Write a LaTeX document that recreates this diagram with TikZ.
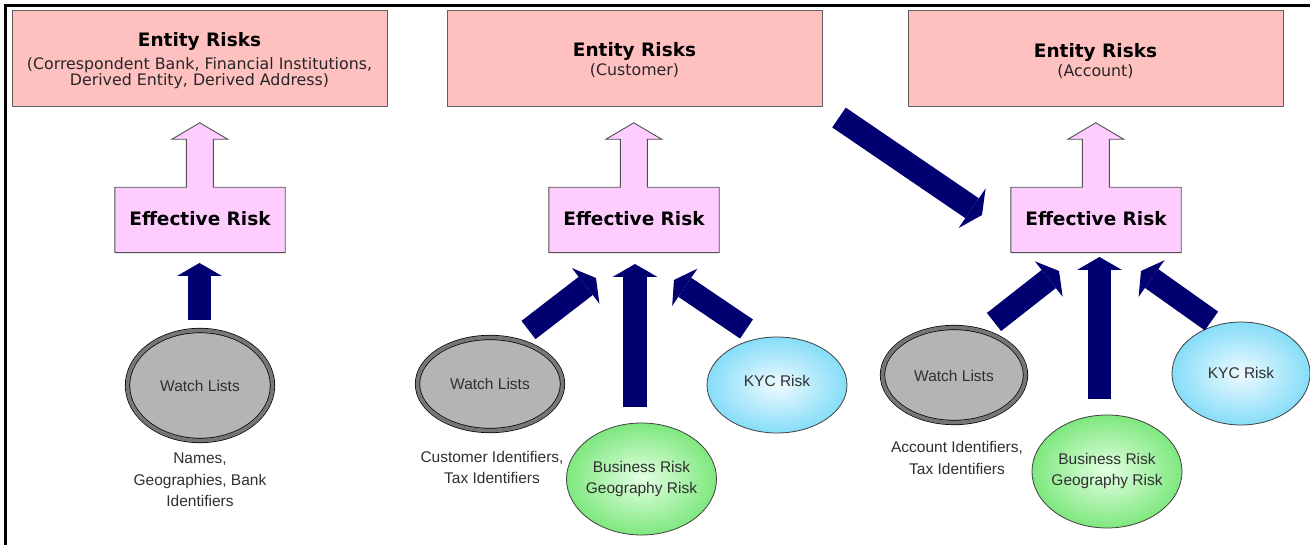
\documentclass[tikz,border=0pt]{standalone}
\usepackage{fontspec}
\setmainfont{DejaVu Sans}
\newfontfamily\verd{DejaVu Sans}
\newfontfamily\arialf{Liberation Sans}
\usetikzlibrary{shapes.geometric,arrows.meta,calc}
\definecolor{entpink}{HTML}{FFC0C0}
\definecolor{entborder}{HTML}{606060}
\definecolor{effpink}{HTML}{FFCCFF}
\definecolor{effborder}{HTML}{505050}
\definecolor{navyc}{HTML}{000070}
\definecolor{wlgray}{HTML}{B4B4B4}
\definecolor{ringgray}{HTML}{767676}
\definecolor{textgray}{HTML}{303030}
\definecolor{subgray}{HTML}{262626}
\definecolor{greenout}{HTML}{7EE87E}
\definecolor{greenin}{HTML}{E4FFE4}
\definecolor{cyanout}{HTML}{86DDF8}
\definecolor{cyanin}{HTML}{EEFAFF}
\definecolor{ovalborder}{HTML}{404040}
\tikzset{
  entbox/.style={draw=entborder, line width=1pt, fill=entpink, minimum width=375pt, minimum height=96.5pt, inner sep=0pt},
  enttitle/.style={font=\verd\bfseries\fontsize{18.5}{22}\selectfont, anchor=base, inner sep=0pt},
  entsub/.style={font=\verd\fontsize{15.8}{16}\selectfont, text=subgray, anchor=base, inner sep=0pt},
  effbox/.style={minimum width=170pt, minimum height=65pt, inner sep=0pt},
  effshape/.style={draw=effborder, line width=0.9pt, fill=effpink, line join=miter},
  efftext/.style={font=\verd\bfseries\fontsize{18.5}{22}\selectfont, anchor=base, inner sep=0pt},
  fatarrow/.style={draw=navyc, line width=23pt, -{Triangle[length=13pt,width=45pt,line width=0pt]}},
  bigarrow/.style={draw=navyc, line width=24pt, -{Triangle[length=12pt,width=48pt,line width=0pt]}},
  wloval/.style={ellipse, draw=black, line width=0.7pt, double=ringgray, double distance=3.8pt, fill=wlgray, inner sep=0pt},
  greenoval/.style={ellipse, draw=ovalborder, line width=0.8pt, inner color=greenin, outer color=greenout, inner sep=0pt},
  cyanoval/.style={ellipse, draw=ovalborder, line width=0.8pt, inner color=cyanin, outer color=cyanout, inner sep=0pt},
  ovaltext/.style={font=\arialf\fontsize{15.5}{21}\selectfont, text=textgray, align=center, inner sep=0pt},
  labeltext/.style={font=\arialf\fontsize{15.5}{21.5}\selectfont, text=textgray, align=center, inner sep=0pt}
}
\begin{document}
\begin{tikzpicture}[x=1pt,y=-1pt]
\useasboundingbox (0,0) rectangle (1310,545);
\fill[white] (0,0) rectangle (1310,545);
% frame
\draw[line width=3pt] (5.5,545) -- (5.5,5.5) -- (1310,5.5);

% entity boxes
\node[entbox] (ent1) at (199.5,58.75) {};
\node[entbox] (ent2) at (634.5,58.75) {};
\node[entbox] (ent3) at (1095.5,58.75) {};
\node[enttitle] (ent1t) at (199.5,46.7) {Entity Risks};
\node[entsub] (ent1a) at (199.5,69.5) {(Correspondent Bank, Financial Institutions,};
\node[entsub] (ent1b) at (199.5,85.5) {Derived Entity, Derived Address)};
\node[enttitle] (ent2t) at (634.5,56.7) {Entity Risks};
\node[entsub] (ent2a) at (634.5,76) {(Customer)};
\node[enttitle] (ent3t) at (1095.5,57.3) {Entity Risks};
\node[entsub] (ent3a) at (1095.5,77) {(Account)};

% effective risk boxes with hollow arrows
\foreach \n/\cx in {1/200, 2/634, 3/1096} {
  \node[effbox] (eff\n) at (\cx,220) {};
  \draw[effshape] (eff\n.south west) -- (eff\n.north west) -- ++(71.5,0) -- ++(0,-48)
     -- ++(-14.5,0) -- ++(28,-16.5) -- ++(28,16.5) -- ++(-14.5,0) -- ++(0,48)
     -- (eff\n.north east) -- (eff\n.south east) -- cycle;
  \node[efftext] (eff\n t) at (\cx,226) {Effective Risk};
}

% ovals
\node[wloval, minimum width=145pt, minimum height=110pt] (wl1) at (200,385.5) {};
\node[ovaltext] at (wl1.center) {Watch Lists};
\node[labeltext] (lab1) at (200,480) {Names,\\Geographies, Bank\\Identifiers};

\node[wloval, minimum width=145pt, minimum height=93pt] (wl2) at (490,384) {};
\node[ovaltext] at (wl2.center) {Watch Lists};
\node[labeltext] (lab2) at (492,467.5) {Customer Identifiers,\\Tax Identifiers};
\node[greenoval, minimum width=150pt, minimum height=112pt] (bg2) at (641.5,479) {};
\node[ovaltext] at (bg2.center) {Business Risk\\Geography Risk};
\node[cyanoval, minimum width=140pt, minimum height=96pt] (kyc2) at (777,385) {};
\node[ovaltext] at ($(kyc2.center)+(0,-4)$) {KYC Risk};

\node[wloval, minimum width=143pt, minimum height=95pt] (wl3) at (954,375) {};
\node[ovaltext] at ($(wl3.center)+(0,1)$) {Watch Lists};
\node[labeltext] (lab3) at (957,458) {Account Identifiers,\\Tax Identifiers};
\node[greenoval, minimum width=150pt, minimum height=113pt] (bg3) at (1107,471.5) {};
\node[ovaltext] at ($(bg3.center)+(0,-1)$) {Business Risk\\Geography Risk};
\node[cyanoval, minimum width=138pt, minimum height=103pt] (kyc3) at (1241,373.5) {};
\node[ovaltext] at ($(kyc3.center)+(0,-1)$) {KYC Risk};

% arrow end points
\coordinate (a1s) at (199.5,320);  \coordinate (a1e) at (199.5,263);
\coordinate (a2s) at (528.5,330);  \coordinate (a2e) at (596,278);
\coordinate (a3s) at (635,407);    \coordinate (a3e) at (635,264);
\coordinate (a4s) at (746.5,329);  \coordinate (a4e) at (674,280);
\coordinate (a5s) at (994,322);    \coordinate (a5e) at (1059,271);
\coordinate (a6s) at (1099.5,399); \coordinate (a6e) at (1099.5,257);
\coordinate (a7s) at (1211.5,321); \coordinate (a7e) at (1141,271);
\coordinate (a8s) at (839,117.5);  \coordinate (a8e) at (982,215);

\draw[fatarrow] (a1s) -- (a1e);
\draw[fatarrow] (a2s) -- (a2e);
\draw[fatarrow,line width=24pt] (a3s) -- (a3e);
\draw[fatarrow] (a4s) -- (a4e);
\draw[fatarrow] (a5s) -- (a5e);
\draw[fatarrow] (a6s) -- (a6e);
\draw[fatarrow] (a7s) -- (a7e);
\draw[bigarrow] (a8s) -- (a8e);
\end{tikzpicture}
\end{document}
